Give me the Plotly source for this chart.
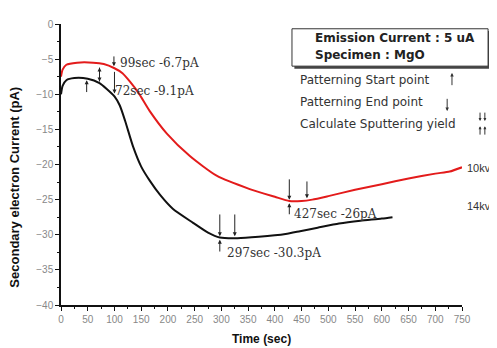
import plotly.graph_objects as go

# ---- data ----
t_10kv = [0, 3, 10, 30, 60, 80, 100, 115, 129, 145, 166, 198, 241, 291, 353, 400, 427, 450, 470, 500, 550, 600, 650, 700, 727, 750]
i_10kv = [-7.5, -6.5, -5.8, -5.5, -5.5, -5.7, -6.3, -7.0, -8.2, -9.8, -12.4, -15.6, -18.8, -21.6, -23.5, -24.6, -25.2, -25.2, -25.0, -24.5, -23.6, -22.8, -22.0, -21.3, -21.0, -20.4]

t_14kv = [0, 3, 10, 25, 50, 72, 85, 100, 110, 120, 135, 150, 166, 185, 209, 247, 275, 297, 330, 370, 420, 447, 480, 520, 560, 600, 620]
i_14kv = [-10.0, -8.8, -8.0, -7.7, -7.8, -8.4, -9.2, -10.3, -11.6, -13.8, -17.5, -20.3, -22.3, -24.3, -26.3, -28.3, -29.7, -30.4, -30.5, -30.3, -29.9, -29.5, -29.0, -28.4, -28.0, -27.7, -27.5]

x_ticks = [0, 50, 100, 150, 200, 250, 300, 350, 400, 450, 500, 550, 600, 650, 700, 750]
y_ticks = [0, -5, -10, -15, -20, -25, -30, -35, -40]

# arrow markers: (time, tail value, tip value)
arrows = [
    (99, -4.4, -6.0),
    (72, -8.4, -6.2),
    (72, -6.0, -8.2),
    (100, -6.6, -9.9),
    (48, -9.9, -8.0),
    (427, -21.9, -25.0),
    (460, -22.2, -24.8),
    (427, -27.3, -25.5),
    (297, -26.9, -30.2),
    (297, -32.6, -30.7),
    (325, -26.9, -30.2),
]

point_labels = [
    (106, -5.6, "99sec -6.7pA"),
    (97, -9.5, "72sec -9.1pA"),
    (432, -27.0, "427sec -26pA"),
    (306, -32.6, "297sec -30.3pA"),
]

fig = go.Figure()
fig.add_trace(go.Scatter(x=t_10kv, y=i_10kv, mode="lines", line=dict(color="#e31b1b", width=2, shape="spline", smoothing=0.6), showlegend=False))
fig.add_trace(go.Scatter(x=t_14kv, y=i_14kv, mode="lines", line=dict(color="#111111", width=2, shape="spline", smoothing=0.6), showlegend=False))

annotations = []
for t, tail, tip in arrows:
    annotations.append(dict(x=t, y=tip, ax=t, ay=tail, xref="x", yref="y", axref="x", ayref="y",
                            text="", showarrow=True, arrowhead=2, arrowsize=0.8, arrowwidth=1, arrowcolor="#222"))
for t, v, s in point_labels:
    annotations.append(dict(x=t, y=v, xref="x", yref="y", text=s, showarrow=False, xanchor="left", yanchor="middle",
                            font=dict(family="DejaVu Serif", size=12, color="#333")))

# box text
annotations.append(dict(x=0.628, y=0.951, xref="paper", yref="paper", text="<b>Emission Current : 5 uA</b>", showarrow=False,
                        xanchor="left", yanchor="middle", font=dict(family="DejaVu Sans", size=12, color="#222")))
annotations.append(dict(x=0.628, y=0.889, xref="paper", yref="paper", text="<b>Specimen : MgO</b>", showarrow=False,
                        xanchor="left", yanchor="middle", font=dict(family="DejaVu Sans", size=12, color="#222")))
legend_lines = [("Patterning Start point", 0.801), ("Patterning End point", 0.721), ("Calculate Sputtering yield", 0.645)]
for s, yy in legend_lines:
    annotations.append(dict(x=0.591, y=yy, xref="paper", yref="paper", text=s, showarrow=False,
                            xanchor="left", yanchor="middle", font=dict(family="DejaVu Sans", size=12, color="#333")))


def dom_arrow(x, y, ax, ay, size=0.7):
    return dict(x=x, y=y, ax=ax, ay=ay, xref="x domain", yref="y domain", axref="x domain", ayref="y domain",
                text="", showarrow=True, arrowhead=2, arrowsize=size, arrowwidth=1, arrowcolor="#333")


# legend arrow glyphs
annotations.append(dom_arrow(0.975, 0.826, 0.975, 0.777))
annotations.append(dom_arrow(0.963, 0.690, 0.963, 0.739))
for xx in (1.045, 1.057):
    annotations.append(dom_arrow(xx, 0.655, xx, 0.690, 0.6))
    annotations.append(dom_arrow(xx, 0.636, xx, 0.601, 0.6))

annotations.append(dict(x=1.008, y=0.488, xref="paper", yref="paper", text="10kv", showarrow=False, xanchor="left",
                        font=dict(family="Liberation Sans", size=11, color="#333")))
annotations.append(dict(x=1.008, y=0.324, xref="paper", yref="paper", text="14kv", showarrow=False, xanchor="left",
                        font=dict(family="Liberation Sans", size=11, color="#333")))

# axis titles
annotations.append(dict(x=-0.117, y=0.418, xref="paper", yref="paper", text="<b>Secondary electron Current (pA)</b>",
                        textangle=-90, showarrow=False, xanchor="center", yanchor="middle",
                        font=dict(family="Liberation Sans", size=13, color="#111")))
annotations.append(dict(x=0.501, y=-0.122, xref="paper", yref="paper", text="<b>Time (sec)</b>",
                        showarrow=False, xanchor="center", yanchor="middle",
                        font=dict(family="Liberation Sans", size=12, color="#111")))

shapes = [
    dict(type="rect", xref="paper", yref="paper", x0=0.582, x1=1.071, y0=0.841, y1=0.975, fillcolor="#444", line=dict(width=0), layer="above"),
    dict(type="rect", xref="paper", yref="paper", x0=0.576, x1=1.065, y0=0.850, y1=0.983, fillcolor="white", line=dict(color="#333", width=1), layer="above"),
]

fig.update_layout(
    width=489, height=340,
    margin=dict(l=53, r=35, t=10, b=43),
    plot_bgcolor="white", paper_bgcolor="white",
    annotations=annotations, shapes=shapes,
    xaxis=dict(range=[0, 750], tickvals=x_ticks, showgrid=False, zeroline=False,
               showline=True, linecolor="#111", linewidth=1.5, ticks="outside", ticklen=4, tickcolor="#111",
               minor=dict(ticks="outside", ticklen=2, dtick=25, tickcolor="#111"),
               tickfont=dict(family="Liberation Sans", size=10, color="#888")),
    yaxis=dict(range=[-40, 0], tickvals=y_ticks, showgrid=False, zeroline=False,
               showline=True, linecolor="#111", linewidth=1.5, ticks="outside", ticklen=4, tickcolor="#111",
               minor=dict(ticks="outside", ticklen=2, dtick=2.5, tickcolor="#111"),
               tickfont=dict(family="Liberation Sans", size=10, color="#888")),
)

fig.write_html("out.html")
